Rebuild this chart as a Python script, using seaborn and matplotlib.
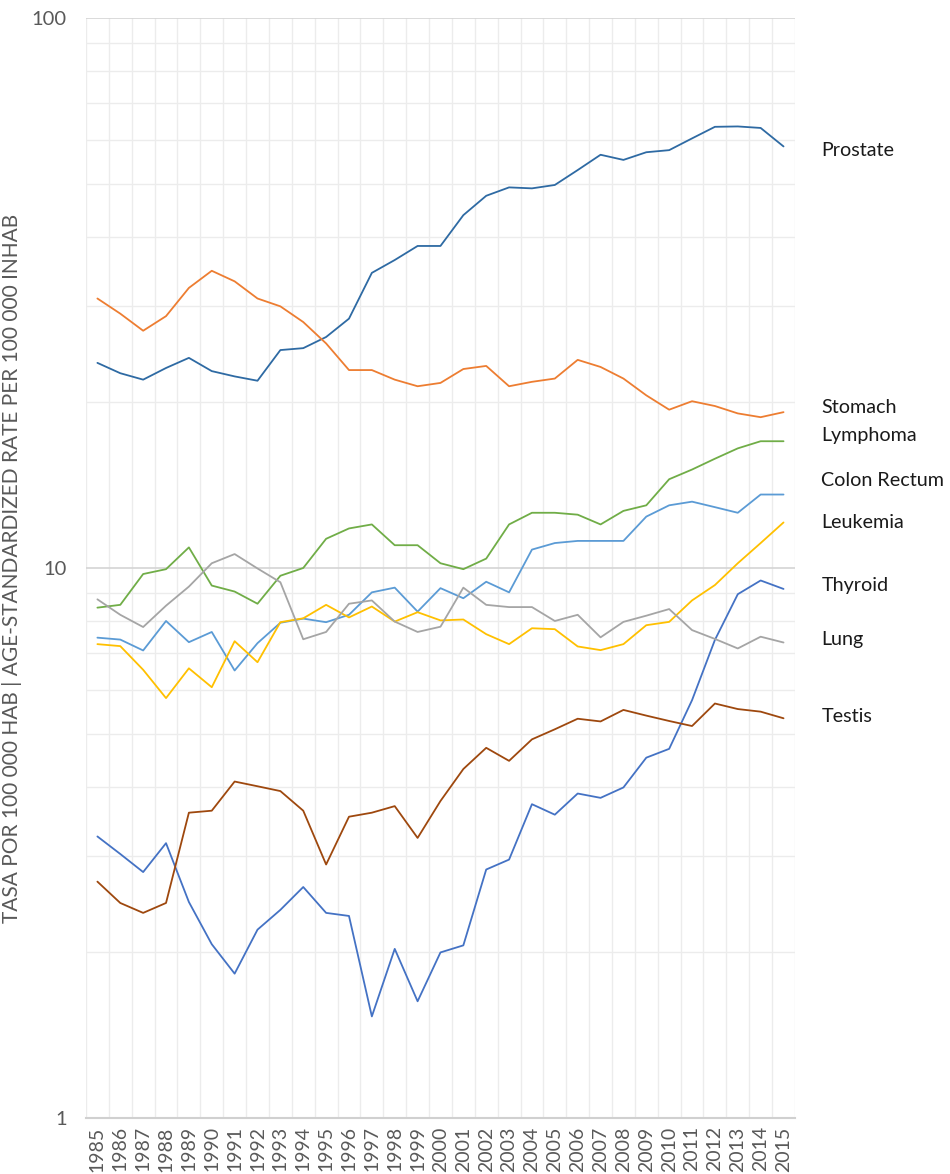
import numpy as np
import pandas as pd
import matplotlib
matplotlib.use("Agg")
import matplotlib.pyplot as plt
import seaborn as sns
from matplotlib.ticker import FixedLocator, NullFormatter

# ------------------------------------------
# Data (age-standardized rate per 100 000)
# ------------------------------------------
years = list(range(1985, 2016))

prostate = [23.6, 22.6, 22.0, 23.1, 24.1, 22.8, 22.3, 21.9, 24.9, 25.1,
            26.3, 28.4, 34.4, 36.3, 38.5, 38.5, 43.8, 47.5, 49.2, 49.0,
            49.7, 52.9, 56.4, 55.2, 57.0, 57.5, 60.4, 63.4, 63.5, 63.1, 58.4]
stomach = [30.9, 29.0, 27.0, 28.7, 32.3, 34.7, 33.2, 30.9, 29.9, 28.0,
           25.6, 22.9, 22.9, 22.0, 21.4, 21.7, 23.0, 23.3, 21.4, 21.8,
           22.1, 23.9, 23.2, 22.1, 20.6, 19.4, 20.1, 19.7, 19.1, 18.8, 19.2]
lymphoma = [8.47, 8.57, 9.75, 9.95, 10.9, 9.29, 9.06, 8.61, 9.68, 10.0,
            11.3, 11.8, 12.0, 11.0, 11.0, 10.2, 9.95, 10.4, 12.0, 12.6,
            12.6, 12.5, 12.0, 12.7, 13.0, 14.5, 15.1, 15.8, 16.5, 17.0, 17.0]
colon_rectum = [7.47, 7.41, 7.08, 8.01, 7.33, 7.65, 6.51, 7.30, 7.95, 8.09,
                7.97, 8.22, 9.03, 9.21, 8.33, 9.19, 8.81, 9.44, 9.03, 10.8,
                11.1, 11.2, 11.2, 11.2, 12.4, 13.0, 13.2, 12.9, 12.6, 13.6, 13.6]
leukemia = [7.27, 7.21, 6.53, 5.80, 6.57, 6.07, 7.36, 6.74, 7.97, 8.10,
            8.57, 8.13, 8.51, 7.99, 8.31, 8.03, 8.06, 7.58, 7.27, 7.77,
            7.74, 7.20, 7.09, 7.27, 7.87, 7.98, 8.73, 9.31, 10.2, 11.1, 12.1]
thyroid = [3.25, 3.02, 2.80, 3.16, 2.47, 2.07, 1.83, 2.20, 2.39, 2.63,
           2.36, 2.33, 1.53, 2.03, 1.63, 2.00, 2.06, 2.83, 2.95, 3.72,
           3.56, 3.89, 3.82, 3.99, 4.52, 4.69, 5.75, 7.40, 8.96, 9.49, 9.16]
lung = [8.77, 8.22, 7.81, 8.54, 9.25, 10.2, 10.6, 9.98, 9.42, 7.42,
        7.65, 8.61, 8.73, 7.99, 7.65, 7.82, 9.21, 8.57, 8.49, 8.49,
        8.01, 8.22, 7.48, 7.98, 8.19, 8.42, 7.71, 7.43, 7.14, 7.50, 7.32]
testis = [2.69, 2.46, 2.36, 2.46, 3.59, 3.62, 4.09, 4.01, 3.93, 3.62,
          2.89, 3.53, 3.59, 3.69, 3.23, 3.77, 4.31, 4.71, 4.46, 4.88,
          5.09, 5.32, 5.26, 5.52, 5.39, 5.27, 5.16, 5.67, 5.54, 5.48, 5.33]

series = {
    "Prostate": prostate,
    "Stomach": stomach,
    "Lymphoma": lymphoma,
    "Colon Rectum": colon_rectum,
    "Leukemia": leukemia,
    "Thyroid": thyroid,
    "Lung": lung,
    "Testis": testis,
}

colors = {
    "Prostate": "#2e6aa3",
    "Stomach": "#ed7d31",
    "Lymphoma": "#70ad47",
    "Colon Rectum": "#5b9bd5",
    "Leukemia": "#ffc000",
    "Thyroid": "#4472c4",
    "Lung": "#a5a5a5",
    "Testis": "#9e480e",
}

# where the end labels sit (data units, nudged apart)
label_y = {
    "Prostate": 57.5,
    "Stomach": 19.6,
    "Lymphoma": 17.4,
    "Colon Rectum": 14.4,
    "Leukemia": 12.1,
    "Thyroid": 9.31,
    "Lung": 7.40,
    "Testis": 5.36,
}

rows = []
for name, vals in series.items():
    for i, v in enumerate(vals):
        rows.append({"idx": i, "Year": years[i], "Cancer": name, "Rate": v})
df = pd.DataFrame(rows)

# ------------------------------------------
# Plot
# ------------------------------------------
sns.set_style("white")
plt.rcParams["font.family"] = ["Lato", "DejaVu Sans"]

fig = plt.figure(figsize=(9.5, 11.74), dpi=100)
ax = fig.add_axes([0.0905, 0.0477, 0.7463, 0.937])

sns.lineplot(data=df, x="idx", y="Rate", hue="Cancer", palette=colors,
             linewidth=1.3, legend=False, ax=ax)

ax.set_yscale("log")
ax.set_ylim(1, 100)
ax.set_xlim(-0.5, len(years) - 0.5)

# y ticks
ax.yaxis.set_major_locator(FixedLocator([1, 10, 100]))
ax.set_yticklabels(["1", "10", "100"])
minor_y = [m * d for d in (1, 10) for m in range(2, 10)]
ax.yaxis.set_minor_locator(FixedLocator(minor_y))
ax.yaxis.set_minor_formatter(NullFormatter())

# x ticks: labels at centers, grid at category boundaries
ax.set_xticks(range(len(years)))
ax.set_xticklabels([str(y) for y in years], rotation=90)
ax.set_xticks(np.arange(-0.5, len(years)), minor=True)

ax.grid(which="minor", axis="both", color="#ececec", linewidth=1.0)
ax.grid(which="major", axis="y", color="#d4d4d4", linewidth=1.2)
ax.set_axisbelow(True)

ax.tick_params(axis="both", which="both", length=0, colors="#595959")
ax.tick_params(axis="y", labelsize=14.5, pad=14)
ax.tick_params(axis="x", labelsize=14, pad=6)

for s in ["top", "right", "left"]:
    ax.spines[s].set_visible(False)
ax.spines["bottom"].set_color("#d0d0d0")
ax.spines["bottom"].set_linewidth(1.5)

ax.set_xlabel("")
ax.set_ylabel("TASA POR 100 000 HAB | AGE-STANDARDIZED RATE PER 100 000 INHAB",
              fontsize=15, color="#595959")
ax.yaxis.set_label_coords(-0.09, 0.5)

# end labels
for name in series:
    ax.text(len(years) + 0.65, label_y[name], name, fontsize=14.2,
            color="#1a1a1a", va="center", ha="left", clip_on=False)

fig.savefig("out.png", dpi=100)
